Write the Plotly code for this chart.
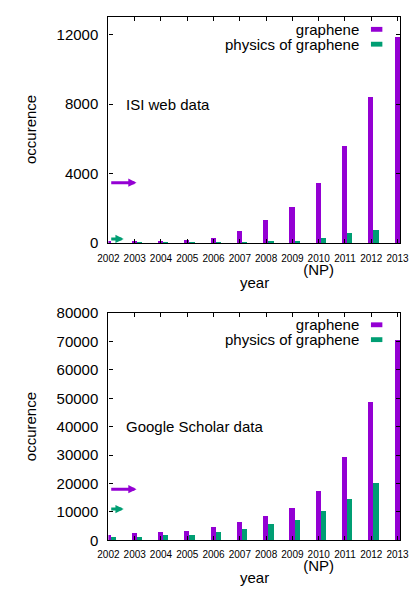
import plotly.graph_objects as go

years = [2002, 2003, 2004, 2005, 2006, 2007, 2008, 2009, 2010, 2011, 2012, 2013]
year_labels = ["2002", "2003", "2004", "2005", "2006", "2007", "2008", "2009",
               "2010<br><span style='font-size:15px'>(NP)</span>", "2011", "2012", "2013"]

isi_graphene = [110, 100, 130, 170, 320, 720, 1320, 2110, 3440, 5610, 8430, 11830]
isi_physics = [10, 15, 20, 25, 35, 70, 110, 120, 320, 590, 740, 350]

gs_graphene = [1950, 2400, 3000, 3400, 4700, 6300, 8460, 11200, 17260, 29350, 48770, 70350]
gs_physics = [1160, 1270, 1710, 1950, 2740, 3900, 5600, 7090, 10400, 14520, 20210, 29250]

isi_ticks = [0, 4000, 8000, 12000]
gs_ticks = [0, 10000, 20000, 30000, 40000, 50000, 60000, 70000, 80000]

# arrow markers (level in data units) for each panel: graphene, physics
isi_arrows = [3480, 250]
gs_arrows = [18000, 11000]

series_names = ["graphene", "physics of graphene"]
panel_labels = ["ISI web data", "Google Scholar data"]

PURPLE = "#9400D3"
GREEN = "#009E73"
FONT = "Liberation Sans"
OFF = 8  # page body margin
W, H = 418 - OFF, 593 - OFF

def px_x(p):
    return min(1.0, max(0.0, (p - OFF) / W))

def px_y(p):
    return min(1.0, max(0.0, 1 - (p - OFF) / H))

xdom = [px_x(102), px_x(409)]
top_dom = [px_y(241), px_y(8)]
bot_dom = [px_y(547), px_y(313)]
xrange_ = [2002, 2013.11]
bw = 0.2

fig = go.Figure()

for xa, ya, g, p in [("x", "y", isi_graphene, isi_physics), ("x2", "y2", gs_graphene, gs_physics)]:
    fig.add_trace(go.Bar(x=years, y=g, width=bw, marker=dict(color=PURPLE, line=dict(width=0)),
                         xaxis=xa, yaxis=ya, showlegend=False, cliponaxis=True))
    fig.add_trace(go.Bar(x=[y + bw for y in years], y=p, width=bw,
                         marker=dict(color=GREEN, line=dict(width=0)),
                         xaxis=xa, yaxis=ya, showlegend=False, cliponaxis=False))

axis_common = dict(showgrid=False, zeroline=False, showline=True, linecolor="black", linewidth=1.2,
                   mirror="ticks", ticks="inside", ticklen=4, tickcolor="black", tickwidth=1)

fig.update_layout(
    width=W, height=H, margin=dict(l=0, r=0, t=0, b=0),
    paper_bgcolor="white", plot_bgcolor="white",
    font=dict(family=FONT, size=15, color="black"),
    barmode="overlay", bargap=0,
    xaxis=dict(domain=xdom, anchor="y", range=xrange_, tickvals=years, ticktext=year_labels,
               tickangle=0, tickfont=dict(size=10), ticklabelstandoff=6, **axis_common),
    yaxis=dict(domain=top_dom, anchor="x", range=[0, 13000], tickvals=isi_ticks,
               ticktext=[str(t) for t in isi_ticks],
               tickfont=dict(size=15), ticklabelstandoff=6, **axis_common),
    xaxis2=dict(domain=xdom, anchor="y2", range=xrange_, tickvals=years, ticktext=year_labels,
                tickangle=0, tickfont=dict(size=10), ticklabelstandoff=5, **axis_common),
    yaxis2=dict(domain=bot_dom, anchor="x2", range=[0, 80000], tickvals=gs_ticks,
                ticktext=[str(t) for t in gs_ticks],
                tickfont=dict(size=15), ticklabelstandoff=6, **axis_common),
)

annotations = []
shapes = []

LEG_GAP = 15.3  # px between legend rows

panels = [
    ("x", "y", isi_arrows, panel_labels[0], 98, 20.7, 281.7, 124),
    ("x2", "y2", gs_arrows, panel_labels[1], 430, 325, 585.7, 430),
]
for xa, ya, arrows, label, label_y, leg1, year_y, occ_y in panels:
    annotations.append(dict(text=label, xref="paper", yref="paper", x=px_x(118), y=px_y(label_y),
                            xanchor="left", yanchor="middle", showarrow=False, font=dict(size=15)))
    leg_text = "<br>".join(f"<span style='font-size:15px'>{n}</span>" for n in series_names)
    annotations.append(dict(text=leg_text, xref="paper", yref="paper", x=px_x(368),
                            y=px_y(leg1 + LEG_GAP / 2), xanchor="right", yanchor="middle",
                            align="right", showarrow=False, font=dict(size=LEG_GAP / 1.3)))
    for i, color in enumerate([PURPLE, GREEN]):
        ly = leg1 + i * LEG_GAP
        shapes.append(dict(type="rect", xref="paper", yref="paper", x0=px_x(378), x1=px_x(390),
                           y0=px_y(ly + 2.5), y1=px_y(ly - 2.5), fillcolor=color, line=dict(width=0)))
    for level, color, tipx in [(arrows[0], PURPLE, 2003.07), (arrows[1], GREEN, 2002.58)]:
        annotations.append(dict(text="", x=tipx, y=level, ax=2002.05, ay=level, xref=xa, yref=ya,
                                axref=xa, ayref=ya, showarrow=True, arrowhead=2, arrowsize=0.55,
                                arrowwidth=3, arrowcolor=color))
    annotations.append(dict(text="year", xref="paper", yref="paper", x=px_x(255.5), y=px_y(year_y),
                            xanchor="center", yanchor="middle", showarrow=False, font=dict(size=15)))
    annotations.append(dict(text="occurence", xref="paper", yref="paper", x=px_x(20), y=px_y(occ_y),
                            xanchor="center", yanchor="middle", textangle=-90, showarrow=False,
                            font=dict(size=15)))

fig.update_layout(annotations=annotations, shapes=shapes)
fig.write_html("out.html")
